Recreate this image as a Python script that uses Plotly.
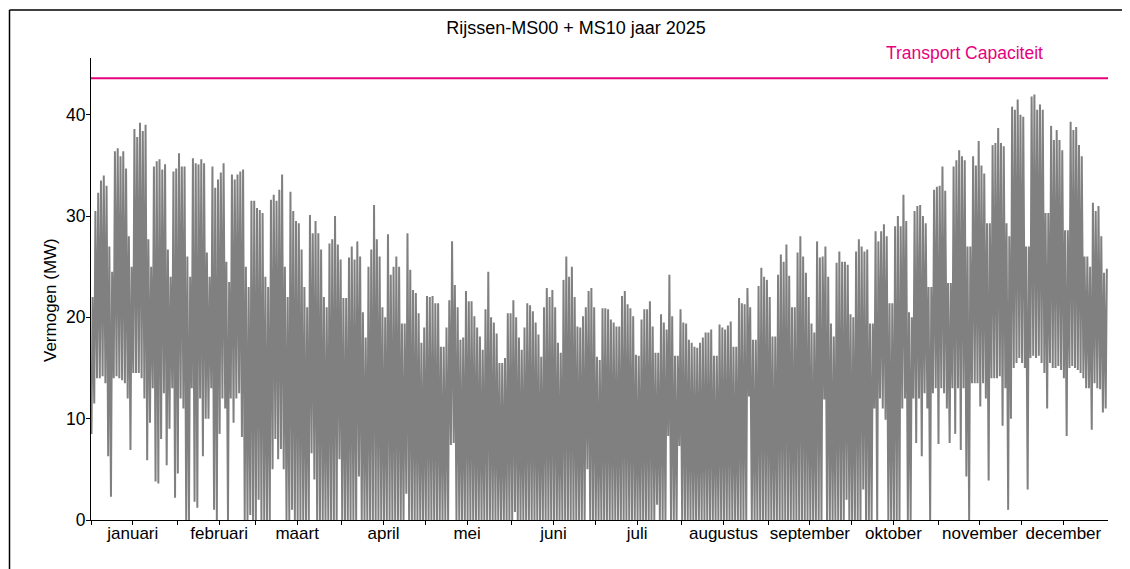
import datetime as dt
import plotly.graph_objects as go

# ---------------- data ----------------
chart_title = "Rijssen-MS00 + MS10 jaar 2025"
y_label = "Vermogen (MW)"
capacity_label = "Transport Capaciteit"
capacity_mw = 43.6

month_names = ["januari", "februari", "maart", "april", "mei", "juni", "juli",
               "augustus", "september", "oktober", "november", "december"]

# daily peak load (MW), one value per day of 2025 (rows of 7 days)
daily_max = [
    22, 30.5, 32.3, 33.5, 34, 33, 27,
    24.5, 36.4, 36.7, 35.9, 36.4, 34.7, 28,
    25, 38.6, 37.8, 39.2, 38.4, 39, 27.7,
    25, 34.9, 35.4, 35.6, 34.6, 35.1, 26.7,
    24, 34.4, 34.7, 36.2, 34.9, 34.9, 26,
    24, 35.7, 35.2, 35.1, 35.6, 35.2, 26.4,
    24, 34.9, 32.8, 33.6, 34.3, 35.2, 25.5,
    23.5, 34.1, 33.6, 34.1, 34.4, 34.6, 25,
    23, 31.5, 31.5, 30.8, 30.6, 30.3, 24,
    23, 31.6, 32.1, 31.5, 32.6, 34.1, 25,
    22, 32.4, 30.5, 29.5, 29.3, 26.7, 23,
    21, 30.1, 28.3, 29.5, 28.3, 26.7, 22,
    21, 27.3, 27.7, 30, 27.2, 25.7, 21.9,
    21.9, 25.9, 27, 25.7, 27.5, 26, 20.5,
    18, 25, 26.7, 31.1, 27.7, 26, 21,
    20, 28.2, 24.2, 25, 26, 25, 19.4,
    19.4, 28.3, 24.7, 22.7, 22.4, 20.4, 17.5,
    19, 22.1, 22, 22.1, 21.4, 21.4, 17.1,
    17.1, 19, 21.7, 27.5, 23.2, 21, 17.8,
    18, 22.6, 21.6, 21.6, 20.1, 19, 18.1,
    16.8, 20.8, 24.5, 20, 19.5, 18.4, 15.5,
    15.5, 16, 20.4, 20.4, 21.7, 20, 18,
    16.8, 19, 21.4, 21.2, 20.6, 19.5, 18.3,
    16.1, 21, 22.9, 22, 22.7, 21, 17.5,
    16.5, 23.7, 26, 24, 25, 22, 19.1,
    19, 20.1, 21, 22.6, 22.9, 21, 16.1,
    15.8, 20.9, 20.9, 20.8, 19.8, 19.5, 19.1,
    19.1, 22.1, 22.6, 21.3, 20.9, 20.1, 16.3,
    16.2, 19.8, 20.8, 20.8, 21.6, 19.1, 16.5,
    16.5, 20.3, 19.5, 18.8, 24.2, 20.1, 16.2,
    16.2, 20.8, 19.5, 19.4, 17.8, 17.5, 17.1,
    17, 17.5, 18, 18.5, 18.5, 18.8, 16.2,
    16.2, 19.3, 19, 18.8, 19.2, 19.6, 17.1,
    17.1, 21.9, 21.4, 21.3, 22.9, 21, 17.8,
    17.8, 23.1, 24.9, 24, 23.7, 22, 18.1,
    18.1, 24.2, 26.2, 25.5, 27.2, 24.1, 21,
    21, 26.4, 28, 26, 24.4, 22, 19.4,
    18.5, 27.5, 25.9, 26, 27, 24, 19.4,
    18.1, 25.4, 26.5, 25.5, 25.5, 25.2, 20.3,
    20, 26.5, 27.7, 27, 26.5, 26.7, 19.4,
    19.4, 28.5, 27.5, 28.5, 29.2, 28, 21.4,
    21.4, 29, 30, 29, 32.1, 29.5, 20.5,
    20, 30.5, 31, 31.1, 30, 29.3, 23,
    23, 32.6, 32.9, 33, 34.9, 32.5, 23.4,
    23.4, 34.9, 35.5, 36.5, 35.9, 35.5, 27,
    27, 35.9, 35, 37.4, 35, 34.2, 29.3,
    29.3, 37, 37.2, 38.7, 37.2, 36.9, 29.3,
    28, 40.8, 40.5, 41.5, 40, 39.8, 27,
    27, 41.8, 42, 40.5, 41, 40.5, 30.3,
    30.3, 38.9, 37.5, 38.5, 37.5, 36.5, 28.6,
    28.6, 39.3, 38.5, 38.8, 37, 35.9, 26,
    26, 25, 31.3, 30.5, 31, 28, 24.4,
    24.8,
]

# daily lowest load (MW), one value per day of 2025 (rows of 7 days)
daily_min = [
    8.5, 11.5, 14, 14, 14.2, 13.5, 6.3,
    2.3, 14, 14.2, 14, 13.8, 13.5, 12,
    6.9, 14.5, 14.5, 14.5, 14, 12, 5.9,
    9.6, 13, 3.8, 3.6, 8, 12.5, 5.4,
    9, 13, 2.2, 4.6, 12, 11, 0,
    0, 13, 1.8, 1.2, 12, 6.3, 10,
    10, 13, 1, 0, 8.5, 12, 11,
    0, 12, 9.6, 12, 12.5, 8.2, 0,
    0, 0.5, 0, 0, 2, 0, 0,
    0, 0, 5, 8, 6, 7, 5,
    0, 0, 1, 0, 0, 0, 0,
    0, 0, 6.6, 4, 0, 0, 0,
    0, 0, 0, 0, 0, 6, 0,
    0, 0, 0, 0, 0, 4.3, 0,
    0, 0, 0, 0, 0, 0, 0,
    0, 0, 0, 0, 0, 0, 0,
    0, 2.6, 0, 0, 0, 0, 0,
    0, 0, 0, 0, 0, 0, 0,
    0, 0, 0, 7.4, 7.6, 0, 0,
    0, 0, 0, 0, 0, 0, 0,
    0, 0, 0, 0, 0, 0, 0,
    0, 0, 0, 0, 0, 0.8, 0,
    0, 0, 0, 0, 0, 0, 0,
    0, 0, 0, 0, 0, 0, 0,
    0, 0, 0, 0, 0, 0, 0,
    0, 0, 0, 5, 0, 0, 0,
    0, 0, 0, 0, 0, 0, 0,
    0, 0, 0, 0, 0, 0, 0,
    0, 0, 0, 0, 0, 0, 0,
    1.5, 0, 0, 0, 8.3, 0, 0,
    0, 7.3, 0, 0, 0, 0, 0,
    0, 0, 0, 0, 0, 0, 0,
    0, 0, 0, 0, 0, 0, 0,
    0, 0, 0, 0, 0, 12.2, 0,
    0, 0, 0, 0, 0, 0, 0,
    0, 0, 0, 0, 0, 0, 0,
    0, 0, 0, 0, 0, 0, 0,
    0, 0, 0, 0, 11.9, 0, 0,
    0, 0, 0, 0, 0, 2, 0,
    0, 0, 0, 0, 3, 0, 0,
    0, 11, 0, 12, 11, 9.9, 0,
    0, 0, 0, 0, 11, 12, 0,
    0, 12, 7.6, 12, 6.3, 12.5, 11,
    0, 12.5, 13, 7.5, 13, 12.5, 11,
    7.6, 13, 8.5, 13, 6.9, 13, 4.3,
    0, 13.5, 13.5, 13.5, 11.2, 13.5, 12,
    3.9, 14, 14, 14, 14.2, 9.3, 13,
    1, 10, 15, 15.5, 16, 15.5, 15,
    3, 16, 16.2, 16, 16.2, 15.5, 14.5,
    11, 15.5, 15, 15, 15.2, 14.8, 14,
    8.3, 15, 15.2, 15, 14.8, 14.5, 14,
    13, 13, 8.9, 13.5, 13, 12.9, 10.6,
    11,
]

# ---------------- build figure ----------------
year_start = dt.datetime(2025, 1, 1)
year_end = dt.datetime(2026, 1, 1)

xs, ys = [], []
for d, (lo, hi) in enumerate(zip(daily_min, daily_max)):
    xs.append(year_start + dt.timedelta(days=d, hours=4))
    ys.append(lo)
    xs.append(year_start + dt.timedelta(days=d, hours=14))
    ys.append(hi)

month_starts = [dt.datetime(2025, m, 1) for m in range(1, 13)]
month_mids = [dt.datetime(2025, m, 16) for m in range(1, 13)]
tickvals = month_starts + month_mids
ticktext = [""] * 12 + month_names

GREY = "#808080"
MAGENTA = "#E6007E"
FONT = "Liberation Sans, Arial, Helvetica, sans-serif"

fig = go.Figure()
fig.add_trace(go.Scatter(x=xs, y=ys, mode="lines",
                         line=dict(color=GREY, width=2.0),
                         hoverinfo="skip", showlegend=False))
fig.add_trace(go.Scatter(x=[year_start, year_end], y=[capacity_mw, capacity_mw],
                         mode="lines", line=dict(color=MAGENTA, width=2),
                         hoverinfo="skip", showlegend=False))

# the page body adds an 8 px offset; the figure is sized to compensate
OFF = 8
W, H = 1130 - OFF, 569 - OFF
L, R, T, B = 91 - OFF, 22, 58 - OFF, 49
pw, ph = W - L - R, H - T - B


def px_x(px):
    """reference-screen x pixel -> paper coordinate"""
    return (px - 91) / pw


def px_y(py):
    """reference-screen y pixel -> paper coordinate"""
    return (520 - py) / ph


fig.update_layout(
    width=W, height=H,
    margin=dict(l=L, r=R, t=T, b=B, pad=0),
    paper_bgcolor="white", plot_bgcolor="white",
    font=dict(family=FONT, size=17, color="black"),
    title=dict(text=chart_title, x=(576 - OFF) / W, xanchor="center",
               y=1 - (28 - OFF) / H, yanchor="middle", yref="container",
               font=dict(size=18, color="black")),
    xaxis=dict(type="date", range=[year_start, year_end],
               tickvals=tickvals, ticktext=ticktext,
               ticks="outside", ticklen=4, tickcolor="black", tickwidth=1,
               ticklabelstandoff=-6,
               showline=True, linecolor="black", linewidth=1,
               showgrid=False, zeroline=False,
               tickfont=dict(size=17, color="black")),
    yaxis=dict(range=[0, 45.6], tickvals=[0, 10, 20, 30, 40],
               ticks="outside", ticklen=4, tickcolor="black", tickwidth=1,
               ticklabelstandoff=-3,
               showline=True, linecolor="black", linewidth=1,
               showgrid=False, zeroline=False,
               tickfont=dict(size=17.5, color="black")),
    annotations=[
        dict(text=capacity_label, xref="paper", yref="paper",
             x=px_x(964), y=px_y(53), xanchor="center", yanchor="middle",
             showarrow=False, font=dict(size=17.5, color=MAGENTA)),
        dict(text=y_label, xref="paper", yref="paper",
             x=px_x(50), y=px_y(300), xanchor="center", yanchor="middle",
             textangle=-90, showarrow=False, font=dict(size=17, color="black")),
    ],
    shapes=[
        dict(type="line", xref="paper", yref="paper",
             x0=px_x(9.5), x1=px_x(9.5), y0=px_y(575), y1=px_y(10),
             line=dict(color="black", width=1.5)),
        dict(type="line", xref="paper", yref="paper",
             x0=px_x(9.5), x1=px_x(1135), y0=px_y(10), y1=px_y(10),
             line=dict(color="black", width=1.5)),
    ],
)

fig.write_html("out.html", config={"displayModeBar": False})
